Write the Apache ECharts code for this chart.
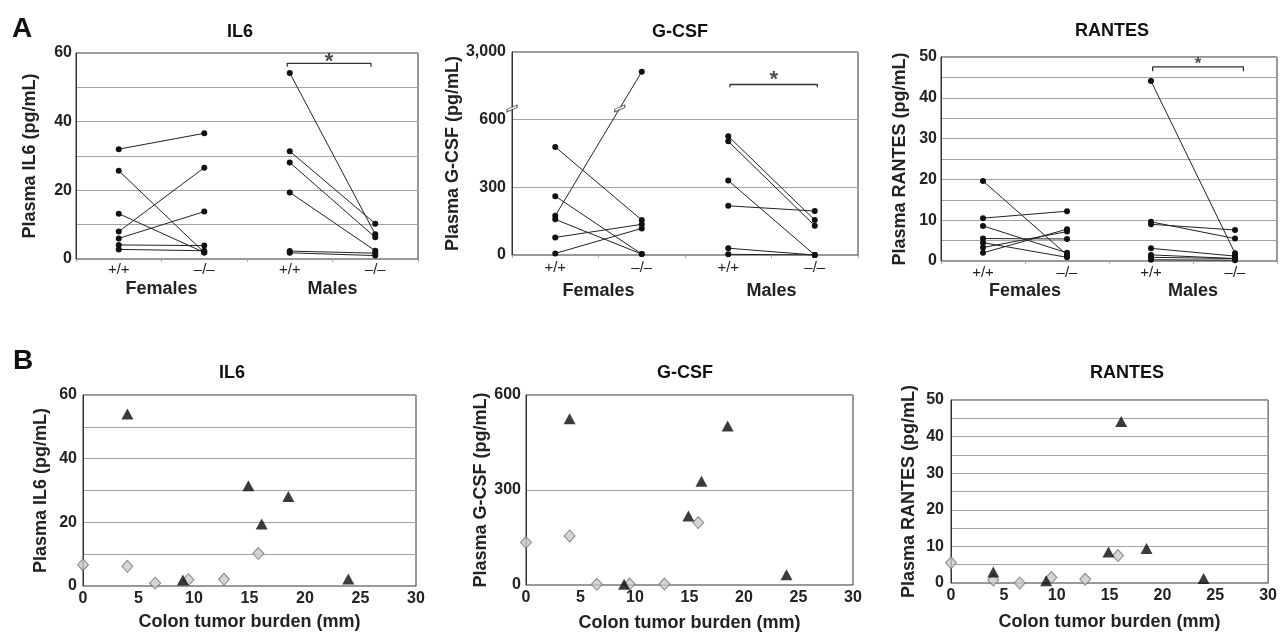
<!DOCTYPE html>
<html><head><meta charset="utf-8">
<script src="https://cdn.jsdelivr.net/npm/echarts@6/dist/echarts.min.js"></script>
<style>html,body{margin:0;padding:0;background:#fff}#c{width:1280px;height:633px}</style>
</head><body><div id="c"></div>
<script>
const FONT = '"Liberation Sans", Arial, Helvetica, sans-serif';

// ---------- Panel A: paired values (+/+ -> -/-) ----------
const groupLabels = ['Females', 'Males'];
const genotypeLabels = ['+/+', '\u2013/\u2013', '+/+', '\u2013/\u2013'];

const il6FemaleWT = [32.0, 25.7, 13.2, 8.0, 6.0, 4.1, 2.8];
const il6FemaleKO = [36.6, 1.9, 1.9, 26.6, 13.8, 3.9, 2.4];
const il6MaleWT = [54.2, 31.4, 28.1, 19.4, 2.3, 1.8];
const il6MaleKO = [7.2, 10.3, 6.3, 2.4, 1.7, 1.0];

const gcsfFemaleWT = [479, 261, 174, 158, 78, 7];
const gcsfFemaleKO = [155, 4, 2180, 4, 136, 118];
const gcsfMaleWT = [527, 504, 330, 218, 30, 3];
const gcsfMaleKO = [155, 130, 0, 195, 0, 0];

const rantesFemaleWT = [19.6, 10.5, 8.6, 5.5, 4.5, 3.3, 2.0];
const rantesFemaleKO = [1.5, 12.2, 2.0, 5.4, 0.9, 7.2, 7.8];
const rantesMaleWT = [44.1, 9.6, 9.0, 3.1, 1.5, 0.9, 0.3];
const rantesMaleKO = [1.9, 5.5, 7.6, 1.2, 0.6, 0.6, 0.2];

// ---------- Panel B: tumor burden scatter ----------
const tumorMales = [4.0, 14.9, 16.1, 18.5, 9.0, 23.9];
const tumorFemales = [0, 4.0, 6.5, 9.5, 12.7, 15.8];
const il6Males = [54.0, 31.5, 19.5, 28.1, 1.9, 2.2];
const il6Females = [6.7, 6.2, 0.9, 2.0, 2.1, 10.2];
const gcsfMales = [525, 218, 328, 502, 2, 32];
const gcsfFemales = [134, 155, 2, 3, 3, 197];
const rantesMales = [3.0, 8.5, 44.1, 9.4, 0.6, 1.2];
const rantesFemales = [5.5, 0.8, 0.0, 1.5, 1.0, 7.5];

const xTicksB = [0, 5, 10, 15, 20, 25, 30];

// G-CSF broken axis: linear up to BREAK_AT, compressed above
const BREAK_AT = 650, GCSF_TOP = 3000, GCSF_AXIS_TOP = 900;
const gT = v => v <= BREAK_AT ? v : BREAK_AT + (v - BREAK_AT) * (GCSF_AXIS_TOP - BREAK_AT) / (GCSF_TOP - BREAK_AT);

const grids = [], xAxes = [], yAxes = [], series = [], graphics = [];
const DARK = '#222';
const GRIDLINE = '#a3a3a3';

function yAxisCfg(gi, c) {
  return {
    gridIndex: gi, type: 'value', min: c.min, max: c.max, interval: c.interval,
    axisLine: { show: true, lineStyle: { color: '#333', width: 1 } },
    axisTick: { show: false },
    axisLabel: { formatter: c.fmt, fontFamily: FONT, fontSize: 16, fontWeight: 'bold', color: DARK, margin: c.labelMargin },
    splitLine: { show: true, lineStyle: { color: GRIDLINE, width: 1.2 } },
    name: c.name, nameLocation: 'middle', nameGap: c.nameGap,
    nameTextStyle: { fontFamily: FONT, fontSize: 18, fontWeight: 'bold', color: DARK }
  };
}

function panelA(c) {
  const gi = grids.length;
  grids.push(Object.assign({ show: true, borderColor: '#333', borderWidth: 1, backgroundColor: 'transparent' }, c.grid));
  const xi = xAxes.length;
  xAxes.push({
    gridIndex: gi, type: 'value', min: 0, max: 4, position: 'bottom',
    axisLine: { show: true, onZero: false, lineStyle: { color: '#999' } },
    axisTick: { show: true, customValues: [0, 1, 2, 3, 4], length: 3, lineStyle: { color: '#aaa' } },
    axisLabel: { customValues: [0.5, 1.5, 2.5, 3.5], formatter: v => genotypeLabels[Math.floor(v)],
      fontFamily: FONT, fontSize: 15, color: DARK, margin: c.labelMargin },
    splitLine: { show: false }
  });
  xAxes.push({
    gridIndex: gi, type: 'value', min: 0, max: 4, position: 'bottom', offset: c.groupOffset,
    axisLine: { show: false }, axisTick: { show: false },
    axisLabel: { customValues: [1, 3], formatter: v => groupLabels[Math.round((v - 1) / 2)],
      fontFamily: FONT, fontSize: 18, fontWeight: 'bold', color: DARK, margin: 3 },
    splitLine: { show: false }
  });
  const yi = yAxes.length;
  yAxes.push(yAxisCfg(gi, c.y));
  const t = c.transform || (v => v);
  const addPairs = (wt, ko, x0) => {
    wt.forEach((w, i) => {
      series.push({
        type: 'line', xAxisIndex: xi, yAxisIndex: yi, silent: true, animation: false, z: 3,
        data: [[x0, t(w)], [x0 + 1, t(ko[i])]],
        symbol: 'circle', symbolSize: 6, showSymbol: true,
        itemStyle: { color: '#111' }, lineStyle: { color: DARK, width: 1 }
      });
      if (c.transform && (Math.max(w, ko[i]) > BREAK_AT) && (Math.min(w, ko[i]) < BREAK_AT)) {
        const a = t(w), b = t(ko[i]);
        const xc = x0 + (BREAK_AT - a) / (b - a);
        c.breakMarks.push([xc, BREAK_AT]);
      }
    });
  };
  addPairs(c.fWT, c.fKO, 0.5);
  addPairs(c.mWT, c.mKO, 2.5);
  const b = c.bracket;
  series.push({
    type: 'line', xAxisIndex: xi, yAxisIndex: yi, silent: true, animation: false, z: 4,
    data: [[b.x0, b.yEnd], [b.x0, b.yTop], [b.x1, b.yTop], [b.x1, b.yEnd]],
    showSymbol: false, symbol: 'none', lineStyle: { color: '#333', width: 1.3 }
  });
  series.push({
    type: 'scatter', xAxisIndex: xi, yAxisIndex: yi, silent: true, animation: false, z: 4,
    data: [[(b.x0 + b.x1) / 2, b.star]], symbolSize: 1, itemStyle: { color: 'rgba(0,0,0,0)' },
    label: { show: true, formatter: '*', position: 'inside', fontFamily: FONT, fontSize: b.starSize, fontWeight: 'bold', color: DARK }
  });
  if (c.breakMarks && c.breakMarks.length) {
    series.push({
      type: 'scatter', xAxisIndex: xi, yAxisIndex: yi, silent: true, animation: false, z: 6, clip: false,
      data: c.breakMarks, symbol: 'path://M0,5 L12,0 L12,3 L0,8 Z', symbolSize: [10, 7], symbolKeepAspect: false,
      itemStyle: { color: '#fff', borderColor: '#333', borderWidth: 1 }
    });
  }
}

function panelB(c) {
  const gi = grids.length;
  grids.push(Object.assign({ show: true, borderColor: '#333', borderWidth: 1, backgroundColor: 'transparent' }, c.grid));
  const xi = xAxes.length;
  xAxes.push({
    gridIndex: gi, type: 'value', min: xTicksB[0], max: xTicksB[xTicksB.length - 1], interval: xTicksB[1] - xTicksB[0],
    axisLine: { show: true, onZero: false, lineStyle: { color: '#999' } },
    axisTick: { show: false },
    axisLabel: { fontFamily: FONT, fontSize: 16, fontWeight: 'bold', color: DARK, margin: c.labelMargin },
    splitLine: { show: false },
    name: 'Colon tumor burden (mm)', nameLocation: 'middle', nameGap: c.xNameGap,
    nameTextStyle: { fontFamily: FONT, fontSize: 18, fontWeight: 'bold', color: DARK, verticalAlign: 'top' }
  });
  const yi = yAxes.length;
  yAxes.push(yAxisCfg(gi, c.y));
  series.push({
    type: 'scatter', xAxisIndex: xi, yAxisIndex: yi, silent: true, animation: false, z: 3,
    data: tumorFemales.map((x, i) => [x, c.females[i]]), symbol: 'diamond', symbolSize: [11, 12],
    itemStyle: { color: '#c9c9c9', borderColor: '#6f6f6f', borderWidth: 1 }
  });
  series.push({
    type: 'scatter', xAxisIndex: xi, yAxisIndex: yi, silent: true, animation: false, z: 4,
    data: tumorMales.map((x, i) => [x, c.males[i]]), symbol: 'triangle', symbolSize: [12, 11],
    itemStyle: { color: '#0a0a0a' }
  });
}

const every = n => v => (Math.abs(v % n) < 1e-9 ? String(v) : '');

panelA({
  grid: { left: 76, top: 53, width: 342, height: 206 },
  y: { min: 0, max: 60, interval: 10, fmt: every(20), name: 'Plasma IL6 (pg/mL)', nameGap: 37, labelMargin: 4 },
  fWT: il6FemaleWT, fKO: il6FemaleKO, mWT: il6MaleWT, mKO: il6MaleKO,
  labelMargin: 3, groupOffset: 18,
  bracket: { x0: 2.47, x1: 3.45, yTop: 57.0, yEnd: 56.0, star: 57.4, starSize: 22 }
});
panelA({
  grid: { left: 512, top: 52, width: 346, height: 203 },
  y: { min: 0, max: GCSF_AXIS_TOP, interval: 300, fmt: v => (v === GCSF_AXIS_TOP ? '3,000' : String(v)),
       name: 'Plasma G-CSF (pg/mL)', nameGap: 48, labelMargin: 6 },
  fWT: gcsfFemaleWT, fKO: gcsfFemaleKO, mWT: gcsfMaleWT, mKO: gcsfMaleKO,
  transform: gT, breakMarks: [[0, BREAK_AT]],
  labelMargin: 5, groupOffset: 24,
  bracket: { x0: 2.52, x1: 3.53, yTop: 756, yEnd: 744, star: 778, starSize: 22 }
});
panelA({
  grid: { left: 941, top: 57, width: 336, height: 204 },
  y: { min: 0, max: 50, interval: 5, fmt: every(10), name: 'Plasma RANTES (pg/mL)', nameGap: 32, labelMargin: 4 },
  fWT: rantesFemaleWT, fKO: rantesFemaleKO, mWT: rantesMaleWT, mKO: rantesMaleKO,
  labelMargin: 4, groupOffset: 18,
  bracket: { x0: 2.52, x1: 3.6, yTop: 47.6, yEnd: 46.5, star: 48.2, starSize: 17 }
});

panelB({
  grid: { left: 83, top: 395, width: 333, height: 191 },
  y: { min: 0, max: 60, interval: 10, fmt: every(20), name: 'Plasma IL6 (pg/mL)', nameGap: 33, labelMargin: 6 },
  males: il6Males, females: il6Females, labelMargin: 5, xNameGap: 27
});
panelB({
  grid: { left: 526, top: 395, width: 327, height: 190 },
  y: { min: 0, max: 600, interval: 300, fmt: v => String(v), name: 'Plasma G-CSF (pg/mL)', nameGap: 35, labelMargin: 5 },
  males: gcsfMales, females: gcsfFemales, labelMargin: 5, xNameGap: 29
});
panelB({
  grid: { left: 951, top: 400, width: 320, height: 183 },
  y: { min: 0, max: 50, interval: 5, fmt: every(10), name: 'Plasma RANTES (pg/mL)', nameGap: 33, labelMargin: 7 },
  males: rantesMales, females: rantesFemales, labelMargin: 5, xNameGap: 30
});

const txt = (s, x, y, size) => ({
  type: 'text', x: x, y: y, silent: true,
  style: { text: s, fontFamily: FONT, fontSize: size, fontWeight: 'bold', fill: '#111', align: 'center', verticalAlign: 'middle' }
});
graphics.push(txt('A', 22, 29, 28), txt('B', 23, 361, 28));
graphics.push(txt('IL6', 240, 32, 18), txt('G-CSF', 680, 32, 18), txt('RANTES', 1112, 31, 18));
graphics.push(txt('IL6', 232, 373, 18), txt('G-CSF', 685, 373, 18), txt('RANTES', 1127, 373, 18));

const chart = echarts.init(document.getElementById('c'), null, { renderer: 'canvas' });
chart.setOption({
  animation: false,
  backgroundColor: '#fff',
  grid: grids, xAxis: xAxes, yAxis: yAxes, series: series, graphic: graphics
});
</script></body></html>
